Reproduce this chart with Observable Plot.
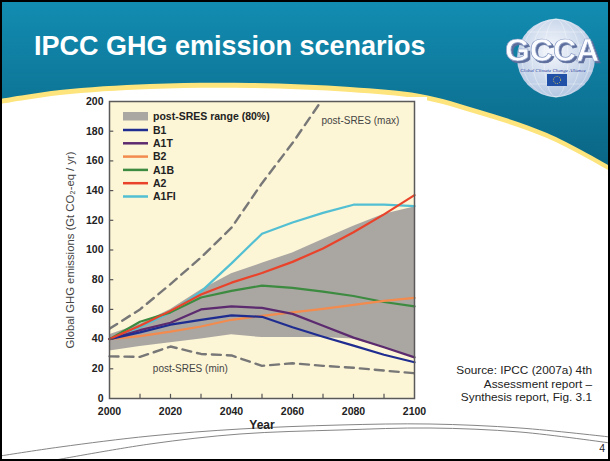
<!DOCTYPE html>
<html>
<head>
<meta charset="utf-8">
<script src="https://cdn.jsdelivr.net/npm/d3@7"></script>
<script src="https://cdn.jsdelivr.net/npm/@observablehq/plot@0.6"></script>
<style>
html,body{margin:0;padding:0;background:#fff;}
#slide{position:relative;width:610px;height:461px;overflow:hidden;font-family:"Liberation Sans",Arial,sans-serif;}
#slide > svg{position:absolute;left:0;top:0;}
#chart{position:absolute;left:0;top:0;}
#chart [aria-label="x-axis tick label"] text,
#chart [aria-label="y-axis tick label"] text{font-weight:bold;fill:#222;}
#chart [aria-label="x-axis label"] text{font-weight:bold;font-size:12px;fill:#222;}
#chart [aria-label="y-axis label"] text{font-size:11.3px;fill:#444;}
</style>
</head>
<body>
<div id="slide"></div>
<script>
// ---------- data ----------
const years = [2000, 2010, 2020, 2030, 2040, 2050, 2060, 2070, 2080, 2090, 2100];
const scenarios = ["B1", "A1T", "B2", "A1B", "A2", "A1FI"];
const B1   = [40, 44.5, 49.7, 53, 56, 55, 48, 41.6, 35.6, 29.5, 24.4];
const A1T  = [40, 46, 51, 60, 62, 61, 57, 49, 41, 34.5, 27.7];
const B2   = [40, 42, 45, 48.5, 53, 55.7, 58, 60.4, 63, 65.8, 67.8];
const A1B  = [40, 51.7, 58, 68, 72.5, 76, 74.5, 72, 69, 65, 62];
const A2   = [40, 49, 59, 70, 78, 84.5, 92, 101, 112, 124, 137];
const A1FI = [40, 48, 58, 72, 91, 111, 118.5, 125, 130.5, 130.5, 129.5];
const rangeLow  = [32, 35, 37.5, 40, 43, 41, 41, 41, 40, 34, 27.5];
const rangeHigh = [43, 50, 60, 73, 84, 91, 98, 107, 116, 124, 129];
const maxYears = [2000, 2010, 2020, 2030, 2040, 2050, 2060, 2070];
const sresMax  = [47, 60, 77, 95, 115, 145, 172, 202];
const sresMin  = [28.4, 28, 35, 30, 29, 22, 23.7, 22, 20.7, 18.8, 17];
const xTickLabels = [2000, 2020, 2040, 2060, 2080, 2100];
const xTickMarks  = [2010, 2020, 2030, 2040, 2050, 2060, 2070, 2080, 2090];
const yTickLabels = [0, 20, 40, 60, 80, 100, 120, 140, 160, 180, 200];
const rangeLabel = "post-SRES range (80%)";
const titleText = "IPCC GHG emission scenarios";
const sourceLines = ["Source: IPCC (2007a) 4th", "Assessment report \u2013", "Synthesis report, Fig. 3.1"];

// ---------- styles ----------
const palette = ["#1f2d90", "#5c2a6f", "#f28b4d", "#3c8b40", "#e9442b", "#52bfd2"];
const drawOrder = ["A1FI", "A1B", "B2", "A1T", "B1", "A2"];

const valuesBy = {B1, A1T, B2, A1B, A2, A1FI};
const long = drawOrder.flatMap(s => years.map((year, i) => ({scenario: s, year, value: valuesBy[s][i]})));
const band = years.map((year, i) => ({year, lo: rangeLow[i], hi: rangeHigh[i]}));
const maxRows = maxYears.map((year, i) => ({year, value: sresMax[i]}));
const minRows = years.map((year, i) => ({year, value: sresMin[i]}));

const W = 610, H = 461;
const slide = d3.select("#slide");

// ---------- slide background ----------
const bg = slide.append("svg").attr("width", W).attr("height", H);
const defs = bg.append("defs");
const lg = defs.append("linearGradient").attr("id", "hdr").attr("x1", 0).attr("y1", 0).attr("x2", 0).attr("y2", 1);
lg.append("stop").attr("offset", "0%").attr("stop-color", "#128db2");
lg.append("stop").attr("offset", "100%").attr("stop-color", "#0a6382");
const rg = defs.append("radialGradient").attr("id", "globe").attr("cx", "45%").attr("cy", "40%").attr("r", "60%");
rg.append("stop").attr("offset", "0%").attr("stop-color", "#f7f9fd");
rg.append("stop").attr("offset", "100%").attr("stop-color", "#b4c7e2");
const sh = defs.append("filter").attr("id", "shadow").attr("x", "-10%").attr("y", "-10%").attr("width", "130%").attr("height", "130%");
sh.append("feDropShadow").attr("dx", 2).attr("dy", 2).attr("stdDeviation", 0.4).attr("flood-color", "#5b6d9c");

bg.append("rect").attr("width", W).attr("height", 175).attr("fill", "url(#hdr)");
const curvePts = [[0, 99], [60, 90], [150, 84], [250, 83], [350, 87], [420, 94], [480, 110], [547, 133], [610, 166]];
const curve = d3.line().curve(d3.curveCatmullRom);
const shape = pts => curve(pts) + `L${W},${H}L0,${H}Z`;
bg.append("path").attr("d", shape(curvePts)).attr("fill", "#fde47c");
bg.append("path").attr("d", shape(curvePts.map(([x, y]) => [x, y + 5]))).attr("fill", "#ffffff");

// chart image white box
bg.append("rect").attr("x", 57).attr("y", 97).attr("width", 370).attr("height", 322).attr("fill", "#fff");

// bottom decorative lines
const lineA = [[0, 456], [60, 447], [150, 436], [240, 429], [340, 425], [430, 424], [520, 428], [610, 437]];
const lineB = [[50, 461], [150, 444], [240, 434], [340, 430], [430, 428], [520, 432], [610, 443]];
[lineA, lineB].forEach(p => bg.append("path").attr("d", d3.line().curve(d3.curveCatmullRom)(p))
  .attr("fill", "none").attr("stroke", "#777").attr("stroke-width", 0.9));

// title
bg.append("text").attr("x", 34).attr("y", 55).attr("fill", "#fff")
  .attr("font-size", 27).attr("font-weight", "bold").text(titleText);

// logo
const lx = 556, ly = 58;
bg.append("circle").attr("cx", lx).attr("cy", ly).attr("r", 39).attr("fill", "url(#globe)");
[12, 24, 34].forEach(rx => bg.append("ellipse").attr("cx", lx).attr("cy", ly).attr("rx", rx).attr("ry", 39)
  .attr("fill", "none").attr("stroke", "#fff").attr("stroke-opacity", 0.6).attr("stroke-width", 0.6));
[-26, -13, 0, 13, 26].forEach(dy => {
  const hw = Math.sqrt(39 * 39 - dy * dy);
  bg.append("line").attr("x1", lx - hw).attr("x2", lx + hw).attr("y1", ly + dy).attr("y2", ly + dy)
    .attr("stroke", "#fff").attr("stroke-opacity", 0.6).attr("stroke-width", 0.6);
});
bg.append("text").attr("x", 552).attr("y", 61).attr("text-anchor", "middle").attr("font-size", 32)
  .attr("font-weight", "bold").attr("fill", "#fbfcff").attr("stroke", "#8b9cc4").attr("stroke-width", 0.7)
  .attr("filter", "url(#shadow)").text("GCCA");
bg.append("text").attr("x", 553).attr("y", 71.5).attr("text-anchor", "middle").attr("font-size", 5)
  .attr("font-style", "italic").attr("fill", "#23399a").attr("font-family", "Liberation Serif, serif")
  .text("Global Climate Change Alliance");
bg.append("rect").attr("x", 547).attr("y", 74).attr("width", 20).attr("height", 12).attr("fill", "#1f4fa6");
bg.append("circle").attr("cx", 557).attr("cy", 80).attr("r", 3.6).attr("fill", "none")
  .attr("stroke", "#f3d53c").attr("stroke-width", 0.9).attr("stroke-dasharray", "1,1.3");

// source text & page number
sourceLines.forEach((t, i) => bg.append("text").attr("x", 592).attr("y", 374 + i * 13.5)
  .attr("text-anchor", "end").attr("font-size", 11.8).attr("fill", "#222").text(t));
bg.append("text").attr("x", 605).attr("y", 452).attr("text-anchor", "end").attr("font-size", 10.5)
  .attr("fill", "#222").text("4");
bg.append("rect").attr("x", 1).attr("y", 1).attr("width", W - 2).attr("height", H - 2)
  .attr("fill", "none").attr("stroke", "#000").attr("stroke-width", 2);

// ---------- the chart ----------
const chart = Plot.plot({
  width: W, height: H,
  marginLeft: 109, marginRight: 196, marginTop: 101, marginBottom: 63,
  style: {background: "transparent", fontFamily: "Liberation Sans, Arial, sans-serif", fontSize: "10.5px", color: "#222"},
  x: {domain: [2000, 2100]},
  y: {domain: [0, 200]},
  color: {domain: scenarios, range: palette},
  marks: [
    Plot.frame({fill: "#fcf5d6"}),
    Plot.areaY(band, {x: "year", y1: "lo", y2: "hi", fill: "#aaa6a2"}),
    Plot.line(maxRows, {x: "year", y: "value", stroke: "#777", strokeWidth: 2.4, strokeDasharray: "9,6", clip: true}),
    Plot.line(minRows, {x: "year", y: "value", stroke: "#777", strokeWidth: 2.4, strokeDasharray: "9,6"}),
    Plot.line(long, {x: "year", y: "value", z: "scenario", stroke: "scenario", strokeWidth: 2.2}),
    Plot.text(["post-SRES (max)"], {x: 2069.5, y: 187, text: d => d, textAnchor: "start", fill: "#444", fontSize: 10}),
    Plot.text(["post-SRES (min)"], {x: 2026.5, y: 20, text: d => d, textAnchor: "middle", fill: "#444", fontSize: 10}),
    Plot.ruleX(xTickMarks, {x: d => d, y1: 0, y2: 2.8, stroke: "#555", strokeWidth: 1.2}),
    Plot.ruleY(yTickLabels.slice(1, -1), {y: d => d, x1: 2000, x2: 2001.4, stroke: "#555", strokeWidth: 1.2}),
    Plot.frame({stroke: "#5a5a5a", strokeWidth: 1.5}),
    Plot.axisX({ticks: xTickLabels, tickSize: 0, tickPadding: 9, tickFormat: d => String(d),
      label: "Year", labelAnchor: "center", labelOffset: 30, labelArrow: "none"}),
    Plot.axisY({ticks: yTickLabels, tickSize: 0, tickPadding: 6, tickFormat: d => String(d),
      label: "Global GHG emissions (Gt CO\u2082-eq / yr)", labelAnchor: "center", labelOffset: 44, labelArrow: "none"})
  ]
});
chart.id = "chart";
slide.node().appendChild(chart);

// ---------- legend (overlay) ----------
const leg = slide.append("svg").attr("width", W).attr("height", H).style("pointer-events", "none");
const colorOf = d3.scaleOrdinal(scenarios, palette);
leg.append("rect").attr("x", 123).attr("y", 112).attr("width", 25).attr("height", 8.5).attr("fill", "#aaa6a2");
leg.append("text").attr("x", 153).attr("y", 116.3).attr("dy", "0.35em").attr("font-size", 10.5)
  .attr("font-weight", "bold").attr("fill", "#222").text(rangeLabel);
scenarios.forEach((s, i) => {
  const y = 130 + i * 13.3;
  leg.append("line").attr("x1", 123).attr("x2", 148).attr("y1", y).attr("y2", y)
    .attr("stroke", colorOf(s)).attr("stroke-width", 2.5);
  leg.append("text").attr("x", 153).attr("y", y).attr("dy", "0.35em").attr("font-size", 10.5)
    .attr("font-weight", "bold").attr("fill", "#222").text(s);
});
</script>
</body>
</html>
